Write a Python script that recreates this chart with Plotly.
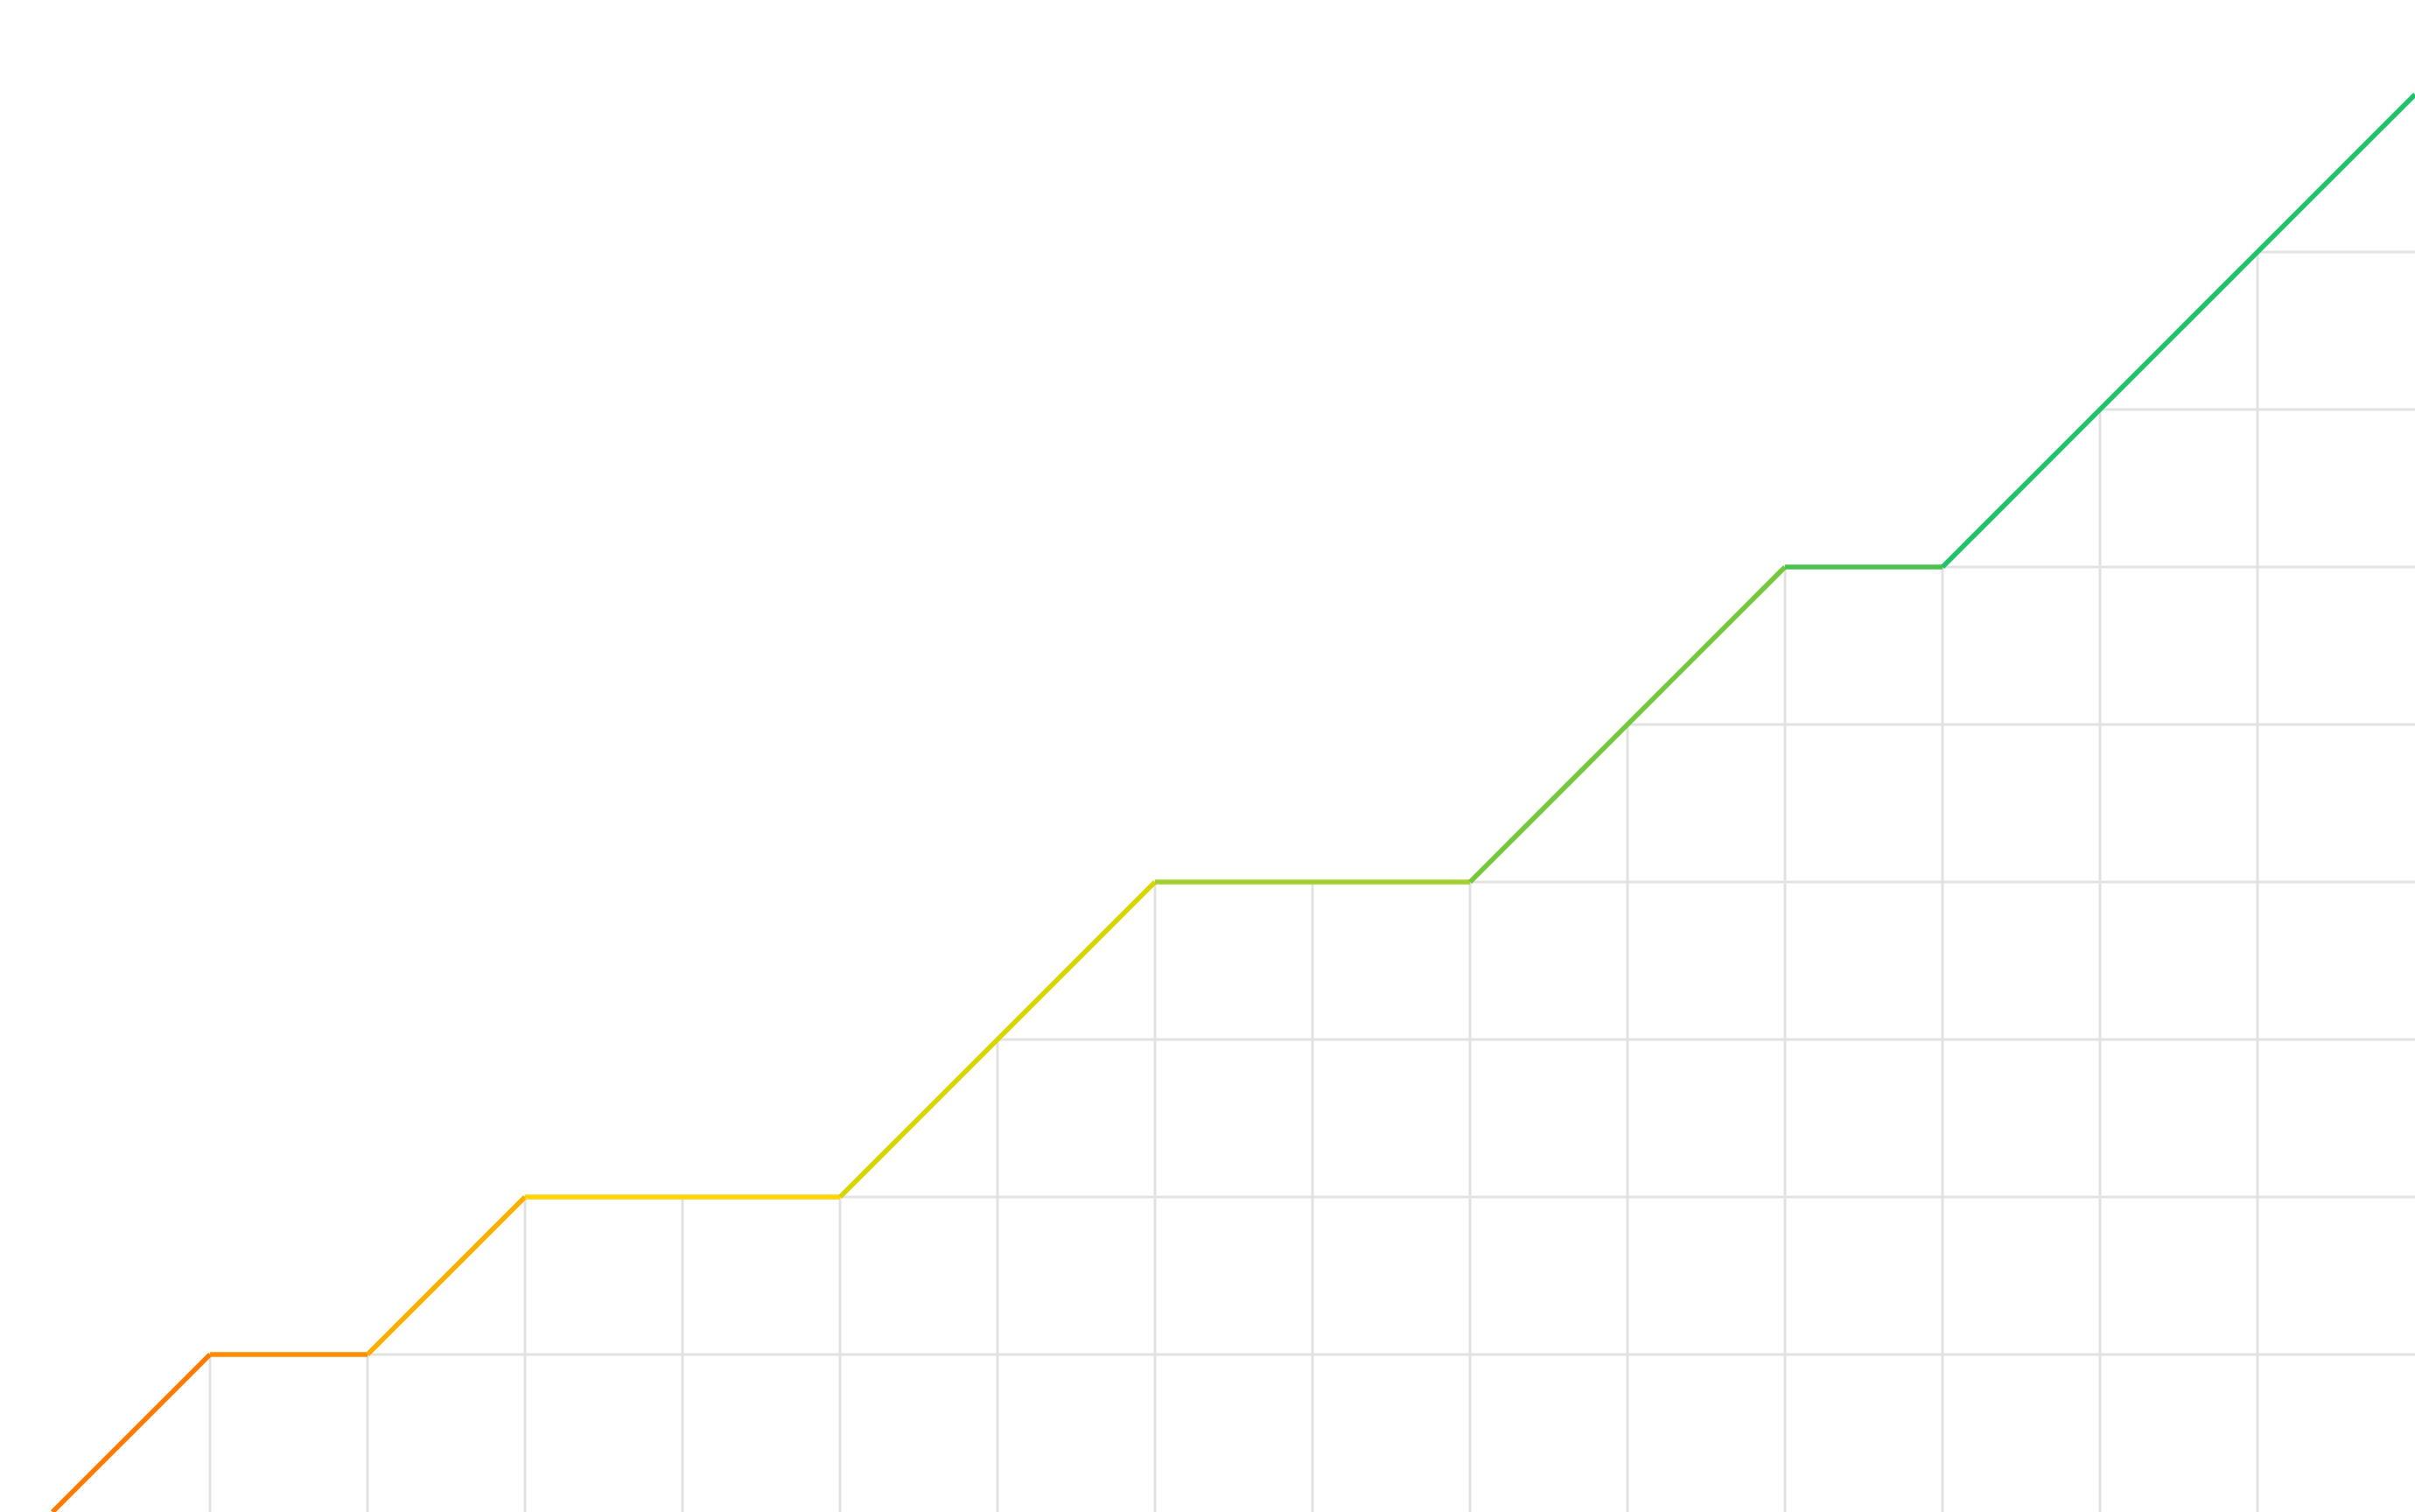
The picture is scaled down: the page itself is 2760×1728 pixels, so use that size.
import plotly.graph_objects as go

# staircase path (grid units)
step_x = [0, 1, 2, 3, 5, 7, 9, 11, 12, 15]
step_y = [0, 1, 1, 2, 2, 4, 4, 6, 6, 9]

# colour of each segment, orange -> green
seg_colors = ["#FF7A00", "#FF8C00", "#FFAE00", "#FFD400", "#D8D600",
              "#A2D12C", "#74C93A", "#4BC24D", "#1EC46A"]

# grid positions that sit under the path
grid_x = list(range(1, 15))
grid_y = list(range(1, 9))


def path_y_at(x):
    for i in range(len(step_x) - 1):
        x0, x1 = step_x[i], step_x[i + 1]
        if x0 <= x <= x1:
            y0, y1 = step_y[i], step_y[i + 1]
            return y0 + (y1 - y0) * (x - x0) / (x1 - x0)
    return step_y[-1]


def path_x_at(y):
    for i in range(len(step_y) - 1):
        y0, y1 = step_y[i], step_y[i + 1]
        if y0 <= y <= y1 and y1 > y0:
            x0, x1 = step_x[i], step_x[i + 1]
            return x0 + (x1 - x0) * (y - y0) / (y1 - y0)
    return step_x[-1]


x_min, x_max = -1 / 3, 15
y_min, y_max = 0, 9.6

gx, gy = [], []
for x in grid_x:
    gx += [x, x, None]
    gy += [y_min, path_y_at(x), None]
for y in grid_y:
    gx += [path_x_at(y), x_max, None]
    gy += [y, y, None]

fig = go.Figure()
fig.add_trace(go.Scatter(x=gx, y=gy, mode="lines", line=dict(color="#E2E2E2", width=3),
                         hoverinfo="skip", showlegend=False))

for i, c in enumerate(seg_colors):
    fig.add_trace(go.Scatter(x=step_x[i:i + 2], y=step_y[i:i + 2], mode="lines",
                             line=dict(color=c, width=5.5), showlegend=False))

fig.update_layout(width=2760, height=1728, margin=dict(l=0, r=0, t=0, b=0),
                  paper_bgcolor="white", plot_bgcolor="white",
                  xaxis=dict(range=[x_min, x_max], visible=False, fixedrange=True),
                  yaxis=dict(range=[y_min, y_max], visible=False, fixedrange=True))

fig.write_html("out.html", config={"displayModeBar": False},
               post_script="document.body.style.margin='0';")
